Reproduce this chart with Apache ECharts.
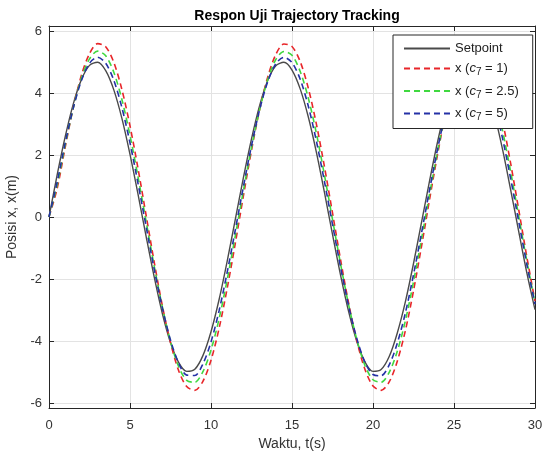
<!DOCTYPE html>
<html><head><meta charset="utf-8">
<script src="https://cdn.jsdelivr.net/npm/echarts@6/dist/echarts.min.js"></script>
<style>html,body{margin:0;padding:0;background:#fff}#c{width:543px;height:461px}</style>
</head><body><div id="c"></div>
<script>
const tVals = [0,0.5,1,1.5,2,2.5,3,3.5,4,4.5,5,5.5,6,6.5,7,7.5,8,8.5,9,9.5,10,10.5,11,11.5,12,12.5,13,13.5,14,14.5,15,15.5,16,16.5,17,17.5,18,18.5,19,19.5,20,20.5,21,21.5,22,22.5,23,23.5,24,24.5,25,25.5,26,26.5,27,27.5,28,28.5,29,29.5,30];
const setpoint = [0,1.35,2.59,3.65,4.43,4.89,4.99,4.72,4.10,3.18,2.02,0.72,-0.64,-1.95,-3.12,-4.05,-4.69,-4.98,-4.91,-4.47,-3.70,-2.66,-1.42,-0.08,1.27,2.52,3.59,4.40,4.88,4.99,4.74,4.14,3.24,2.10,0.80,-0.56,-1.88,-3.06,-4.01,-4.67,-4.98,-4.92,-4.50,-3.74,-2.73,-1.50,-0.16,1.19,2.46,3.54,4.36,4.86,5.00,4.77,4.19,3.30,2.17,0.87,-0.48,-1.81,-2.99];
const xc1 = [0,0.91,2.25,3.53,4.57,5.27,5.59,5.49,4.99,4.11,2.94,1.55,0.04,-1.47,-2.87,-4.05,-4.95,-5.47,-5.59,-5.30,-4.62,-3.59,-2.30,-0.85,0.68,2.15,3.46,4.51,5.24,5.58,5.50,5.02,4.17,3.01,1.63,0.13,-1.38,-2.79,-3.99,-4.91,-5.45,-5.59,-5.32,-4.65,-3.66,-2.38,-0.93,0.59,2.06,3.39,4.46,5.21,5.57,5.52,5.06,4.23,3.09,1.72,0.22,-1.30,-2.71];
const xc25 = [0,1.03,2.33,3.52,4.48,5.10,5.35,5.20,4.67,3.79,2.63,1.28,-0.16,-1.60,-2.91,-4.01,-4.82,-5.27,-5.33,-4.99,-4.29,-3.28,-2.02,-0.61,0.85,2.24,3.46,4.43,5.08,5.34,5.22,4.70,3.85,2.71,1.36,-0.08,-1.52,-2.84,-3.95,-4.78,-5.25,-5.33,-5.01,-4.33,-3.34,-2.09,-0.69,0.76,2.16,3.40,4.38,5.05,5.34,5.23,4.74,3.91,2.78,1.45,0.01,-1.44,-2.77];
const xc5 = [0,1.12,2.39,3.52,4.40,4.96,5.15,4.96,4.41,3.53,2.39,1.07,-0.32,-1.70,-2.94,-3.97,-4.71,-5.10,-5.11,-4.74,-4.03,-3.02,-1.78,-0.42,0.98,2.30,3.46,4.36,4.94,5.15,4.98,4.45,3.59,2.46,1.15,-0.24,-1.62,-2.88,-3.92,-4.68,-5.08,-5.12,-4.77,-4.07,-3.09,-1.86,-0.50,0.90,2.23,3.40,4.31,4.91,5.15,5.00,4.49,3.64,2.53,1.23,-0.16,-1.54,-2.81];
const yTicks = [-6,-4,-2,0,2,4,6];
const seriesNames = ['Setpoint','x (c7 = 1)','x (c7 = 2.5)','x (c7 = 5)'];
const legendLabels = {
  'Setpoint': 'Setpoint',
  'x (c7 = 1)': 'x ({it|c}{sub|7} = 1)',
  'x (c7 = 2.5)': 'x ({it|c}{sub|7} = 2.5)',
  'x (c7 = 5)': 'x ({it|c}{sub|7} = 5)'
};
const pair = arr => arr.map((v, i) => [tVals[i], v]);
const FONT = 'Liberation Sans, Arial, Helvetica, sans-serif';
const AX = '#262626';
const chart = echarts.init(document.getElementById('c'), null, {renderer: 'canvas'});
const baseX = {
  type: 'value', min: 0, max: 30, interval: 5,
  axisLine: {show: true, onZero: false, lineStyle: {color: AX, width: 1}},
  axisTick: {show: true, inside: true, length: 5, lineStyle: {color: AX}},
};
const baseY = {
  type: 'value', min: -6.16, max: 6.16,
  axisLine: {show: true, onZero: false, lineStyle: {color: AX, width: 1}},
  axisTick: {show: true, inside: true, length: 5, customValues: yTicks, lineStyle: {color: AX}},
};
const lineSeries = (name, data, color, type, width) => ({
  name, type: 'line', data: pair(data), smooth: 0.3, showSymbol: false, symbol: 'none',
  lineStyle: {color, type, width}, itemStyle: {color}, animation: false, z: 3
});
chart.setOption({
  animation: false,
  backgroundColor: '#fff',
  title: {
    text: 'Respon Uji Trajectory Tracking', left: 292, top: 4, textAlign: 'center',
    textStyle: {fontFamily: FONT, fontSize: 14, fontWeight: 'bold', color: '#000'}
  },
  grid: {left: 49, right: 8, top: 26, bottom: 53, containLabel: false, outerBoundsMode: 'none'},
  xAxis: [
    Object.assign({}, baseX, {
      position: 'bottom',
      axisLabel: {show: true, color: '#333', fontFamily: FONT, fontSize: 13, margin: 11},
      splitLine: {show: true, lineStyle: {color: '#e3e3e3', width: 1}},
      name: 'Waktu, t(s)', nameLocation: 'middle', nameGap: 28,
      nameTextStyle: {fontFamily: FONT, fontSize: 14, color: '#333'}
    }),
    Object.assign({}, baseX, {position: 'top', axisLabel: {show: false}, splitLine: {show: false}})
  ],
  yAxis: [
    Object.assign({}, baseY, {
      position: 'left',
      axisLabel: {show: true, customValues: yTicks, color: '#333', fontFamily: FONT, fontSize: 13, margin: 7},
      splitLine: {show: true, lineStyle: {color: '#e3e3e3', width: 1}},
      name: 'Posisi x, x(m)', nameLocation: 'middle', nameGap: 25, nameRotate: 90,
      nameTextStyle: {fontFamily: FONT, fontSize: 14, color: '#333'}
    }),
    Object.assign({}, baseY, {position: 'right', axisLabel: {show: false}, splitLine: {show: false}})
  ],
  legend: {
    orient: 'vertical', left: 393, top: 35,
    data: seriesNames,
    backgroundColor: '#fff', borderColor: AX, borderWidth: 1, borderRadius: 0,
    padding: [7, 14, 6, 10], itemGap: 7, itemWidth: 46, itemHeight: 14,
    itemStyle: {opacity: 0},
    formatter: name => legendLabels[name],
    textStyle: {
      fontFamily: FONT, fontSize: 13, color: '#222',
      rich: {
        it: {fontFamily: FONT, fontSize: 13, fontStyle: 'italic', color: '#222'},
        sub: {fontFamily: FONT, fontSize: 10, color: '#222', padding: [8, 0, 0, 0]}
      }
    }
  },
  series: [
    lineSeries('Setpoint', setpoint, '#4a4a4a', 'solid', 1.4),
    lineSeries('x (c7 = 1)', xc1, '#e8262a', [6, 4], 1.6),
    lineSeries('x (c7 = 2.5)', xc25, '#3fd83f', [6, 4], 1.6),
    lineSeries('x (c7 = 5)', xc5, '#2431a6', [6, 4], 1.6)
  ]
});
</script></body></html>
